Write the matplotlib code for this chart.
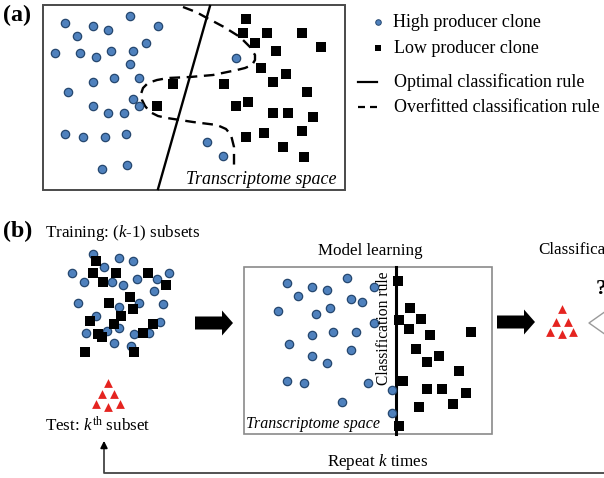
import matplotlib
matplotlib.use("Agg")
import matplotlib.pyplot as plt
from matplotlib.patches import Rectangle, FancyArrow

plt.rcParams['font.family'] = ['Liberation Serif', 'DejaVu Serif']
plt.rcParams['mathtext.fontset'] = 'custom'
plt.rcParams['mathtext.rm'] = 'Liberation Serif'
plt.rcParams['mathtext.it'] = 'Liberation Serif:italic'

# ---------------- data (pixel space of the figure) ----------------
# Panel (a): high producer clones (blue circles)
a_high_x = [130, 65, 93, 108, 158, 77, 146, 55, 80, 96, 111, 133, 130, 236, 93, 114, 139,
            68, 133, 139, 93, 108, 124, 65, 83, 105, 126, 207, 223, 102, 127]
a_high_y = [16, 23, 26, 30, 26, 36, 43, 53, 53, 57, 51, 51, 64, 58, 82, 78, 78,
            92, 99, 106, 106, 113, 113, 134, 137, 137, 134, 142, 156, 169, 165]
# Panel (a): low producer clones (black squares)
a_low_x = [246, 243, 267, 302, 255, 276, 321, 261, 286, 273, 224, 173, 307, 248, 236, 157,
           273, 288, 313, 302, 264, 246, 283, 304]
a_low_y = [19, 33, 33, 33, 43, 51, 47, 68, 74, 82, 84, 84, 92, 102, 106, 106,
           113, 113, 117, 131, 133, 137, 147, 157]
# Optimal rule (solid line) end points
opt_x = [210, 158]
opt_y = [6, 189]
# Overfitted rule (dashed curve) vertices
over_x = [183, 196, 207, 224, 240, 250, 255, 255, 252, 245, 237, 213, 190, 168, 157, 148, 143,
          141, 142, 145, 150, 158, 167, 193, 217, 226, 231, 234, 234]
over_y = [7, 12, 18, 27, 37, 47, 55, 60, 65, 68, 70, 75, 77, 78, 80, 83, 88,
          94, 100, 106, 112, 116, 118, 122, 125, 129, 135, 147, 167]

# Panel (b) training data
b_high_x = [93, 119, 133, 104, 72, 84, 112, 123, 137, 157, 169, 154, 78, 139, 119, 163,
            96, 160, 119, 86, 107, 134, 149, 114, 131]
b_high_y = [254, 258, 261, 267, 273, 282, 282, 285, 279, 279, 273, 291, 303, 303, 307, 304,
            316, 322, 328, 333, 331, 334, 333, 343, 346]
b_low_x = [96, 93, 116, 148, 103, 166, 130, 109, 133, 121, 90, 114, 153, 98, 102, 143, 85, 134]
b_low_y = [261, 273, 273, 273, 282, 285, 297, 303, 309, 316, 321, 324, 324, 334, 337, 333, 352, 352]
# Test subset (red triangles)
test_x = [108, 102, 114, 96, 108, 120]
test_y = [383, 394, 394, 404, 407, 404]

# Model learning panel
m_high_x = [287, 312, 327, 347, 374, 298, 351, 362, 278, 316, 330, 374, 312, 333, 356,
            289, 351, 312, 327, 287, 304, 368, 392, 342, 392]
m_high_y = [283, 287, 290, 278, 287, 296, 299, 302, 311, 314, 308, 323, 335, 332, 332,
            344, 350, 356, 363, 381, 383, 383, 390, 402, 413]
m_low_x = [398, 410, 399, 421, 409, 430, 471, 416, 439, 427, 459, 403, 427, 442, 466, 419, 453, 399]
m_low_y = [281, 308, 320, 319, 329, 335, 332, 349, 356, 362, 371, 381, 389, 389, 393, 407, 404, 426]

# Classification step triangles
cls_x = [562, 556, 568, 550, 562, 573]
cls_y = [309, 322, 322, 332, 334, 332]

# ---------------- style ----------------
BLUE = '#4f81bd'
BLUE_EDGE = '#25476f'
RED = '#e52420'
PX = 0.72  # px -> pt at 100 dpi

fig = plt.figure(figsize=(6.04, 4.78), dpi=100)
ax = fig.add_axes([0, 0, 1, 1])
ax.set_xlim(0, 604)
ax.set_ylim(478, 0)
ax.axis('off')

def circles(x, y, s=36):
    ax.scatter(x, y, s=s, c=BLUE, edgecolors=BLUE_EDGE, linewidths=0.9, zorder=4)

def squares(x, y, s=42):
    ax.scatter(x, y, s=s, c='black', marker='s', linewidths=0, zorder=4)

def triangles(x, y, s=40):
    ax.scatter(x, y, s=s, c=RED, marker='^', linewidths=0, zorder=4)

# ---------- Panel (a) ----------
ax.add_patch(Rectangle((43, 5), 302, 185, fill=False, edgecolor='#4a4a4a', lw=1.4, zorder=2))
ax.text(3, 15, '(a)', fontsize=24 * PX, fontweight='bold', va='center', ha='left')
circles(a_high_x, a_high_y)
squares(a_low_x, a_low_y)
ax.plot(opt_x, opt_y, color='black', lw=1.7, zorder=3)
ax.plot(over_x, over_y, color='black', lw=1.7, dashes=[4.5, 2.8], zorder=3,
        solid_capstyle='butt', dash_capstyle='butt')
ax.text(337, 180, 'Transcriptome space', fontsize=18 * PX, style='italic',
        ha='right', va='center', zorder=5)

# legend
ax.scatter([378], [22], s=16, c=BLUE, edgecolors=BLUE_EDGE, linewidths=0.7)
ax.scatter([378], [48], s=24, c='black', marker='s', linewidths=0)
ax.plot([358, 377], [82, 82], color='black', lw=1.6)
ax.plot([358, 377], [107, 107], color='black', lw=1.6, dashes=[3.15, 2.25],
        dash_capstyle='butt')
leg_fs = 18 * PX
ax.text(393, 22, 'High producer clone', fontsize=leg_fs, va='center', ha='left')
ax.text(394, 48, 'Low producer clone', fontsize=leg_fs, va='center', ha='left')
ax.text(394, 82, 'Optimal classification rule', fontsize=leg_fs, va='center', ha='left')
ax.text(394, 107, 'Overfitted classification rule', fontsize=leg_fs, va='center', ha='left')

# ---------- Panel (b) ----------
ax.text(3, 231, '(b)', fontsize=24 * PX, fontweight='bold', va='center', ha='left')
ax.text(45, 233, r'Training: ($\mathit{k}$-1) subsets', fontsize=17 * PX, va='center', ha='left')
circles(b_high_x, b_high_y)
squares(b_low_x, b_low_y)
triangles(test_x, test_y)
ax.text(45, 426, r'Test: $\mathit{k}^{\mathrm{th}}$ subset', fontsize=17 * PX, va='center', ha='left')

# big arrows
ax.add_patch(FancyArrow(195, 323, 38, 0, width=13, head_width=25, head_length=11,
                        length_includes_head=True, color='black', lw=0))
ax.add_patch(FancyArrow(497, 322, 38, 0, width=13, head_width=25, head_length=11,
                        length_includes_head=True, color='black', lw=0))

# model learning box
ax.text(370, 251, 'Model learning', fontsize=17 * PX, va='center', ha='center')
ax.add_patch(Rectangle((244, 267), 248, 167, fill=False, edgecolor='#8a8a8a', lw=1.2, zorder=2))
circles(m_high_x, m_high_y)
squares(m_low_x, m_low_y)
ax.plot([396, 396], [267, 434], color='black', lw=2.2, zorder=3)
ax.text(384, 328, 'Classification rule', fontsize=15.5 * PX, rotation=90,
        va='center', ha='center', zorder=5)
ax.text(246, 424, 'Transcriptome space', fontsize=16 * PX, style='italic',
        va='center', ha='left', zorder=5)

# classification step (cut by the right edge as in the reference)
ax.text(538, 250, 'Classification', fontsize=17 * PX, va='center', ha='left')
triangles(cls_x, cls_y)
ax.plot([606, 589, 606], [311, 323, 335], color='#9a9a9a', lw=1.0)
ax.text(596, 289, '?', fontsize=22 * PX, fontweight='bold', va='center', ha='left')

# repeat loop
ax.plot([606, 104, 104], [473, 473, 446], color='#444444', lw=1.3)
ax.annotate('', xy=(104, 438), xytext=(104, 450),
            arrowprops=dict(arrowstyle='-|>', color='black', lw=1.3,
                            mutation_scale=10))
ax.text(378, 462, r'Repeat $\mathit{k}$ times', fontsize=17 * PX, va='center', ha='center')

fig.savefig('out.png', dpi=100)
